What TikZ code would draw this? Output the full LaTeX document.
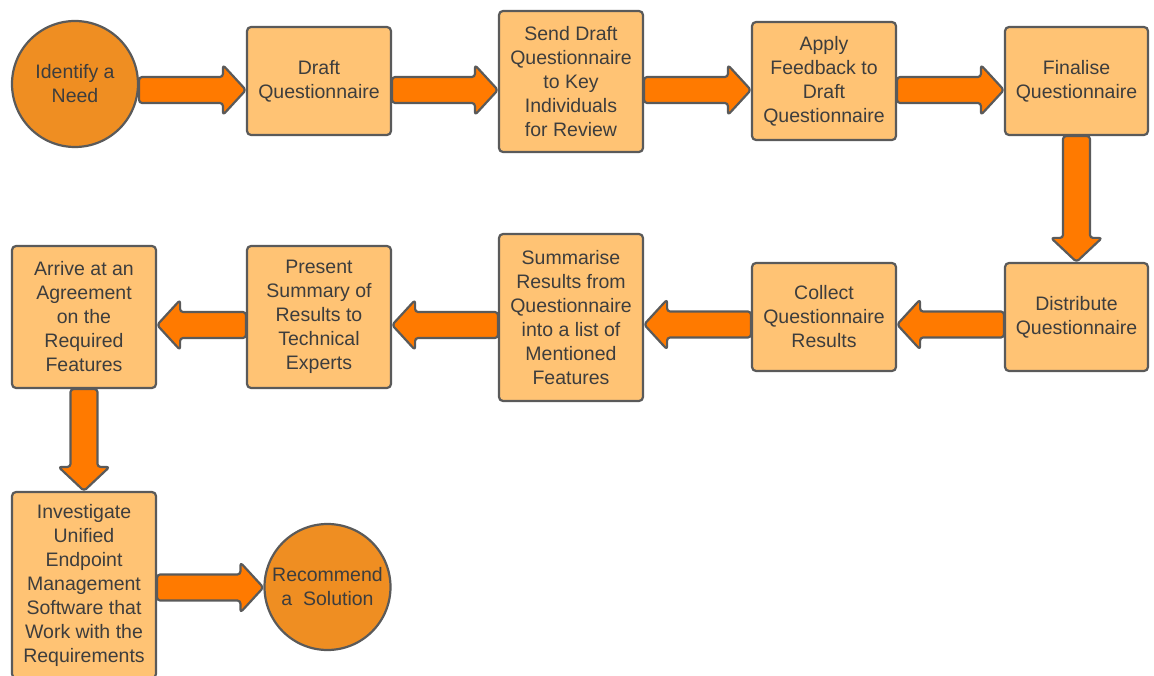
\documentclass[tikz,border=0pt]{standalone}
\usepackage{fontspec}
\setmainfont{Liberation Sans}
\usetikzlibrary{calc}

\definecolor{boxfill}{HTML}{FFC374}
\definecolor{circfill}{HTML}{EF8E22}
\definecolor{arrowfill}{HTML}{FF7A00}
\definecolor{edgegray}{HTML}{5A5A5A}
\definecolor{textgray}{HTML}{3D3D3D}

\tikzset{
  base/.style={draw=edgegray, line width=2.2pt, text=textgray, align=center,
    inner sep=0pt, font=\fontsize{19.5}{24}\selectfont},
  stepbox/.style={base, rectangle, rounded corners=4pt, fill=boxfill},
  endpoint/.style={base, circle, fill=circfill, minimum size=126pt},
  flowarrow/.style={draw=edgegray, fill=arrowfill, line width=2.2pt,
    rounded corners=3pt, line join=round},
}

% horizontal block arrow: start point, end point (only its x is used)
\newcommand\harrow[2]{%
  \filldraw[flowarrow] let \p1=#1, \p2=#2, \n1={sign(\x2-\x1)} in
    (\x1,\y1+13pt) -- (\x2-\n1*23pt,\y1+13pt) -- (\x2-\n1*23pt,\y1+25pt)
    -- (\x2,\y1) -- (\x2-\n1*23pt,\y1-25pt) -- (\x2-\n1*23pt,\y1-13pt)
    -- (\x1,\y1-13pt) -- cycle;}
% vertical block arrow: start point, end point (only its y is used)
\newcommand\varrow[2]{%
  \filldraw[flowarrow] let \p1=#1, \p2=#2, \n1={sign(\y2-\y1)} in
    (\x1+13.5pt,\y1) -- (\x1+13.5pt,\y2-\n1*24pt) -- (\x1+25.5pt,\y2-\n1*24pt)
    -- (\x1,\y2) -- (\x1-25.5pt,\y2-\n1*24pt) -- (\x1-13.5pt,\y2-\n1*24pt)
    -- (\x1-13.5pt,\y1) -- cycle;}

\begin{document}
\begin{tikzpicture}[x=1pt, y=-1pt]
\useasboundingbox (0,0) rectangle (1154,676);

% first row
\node[endpoint] (need) at (75,84) {Identify a\\Need};
\node[stepbox, minimum width=144pt, minimum height=108pt] (draft) at (319,81)
  {Draft\\Questionnaire};
\node[stepbox, minimum width=144pt, minimum height=141pt] (send) at (571,81.5)
  {Send Draft\\Questionnaire\\to Key\\Individuals\\for Review};
\node[stepbox, minimum width=144pt, minimum height=118pt] (apply) at (824,81)
  {Apply\\Feedback to\\Draft\\Questionnaire};
\node[stepbox, minimum width=143pt, minimum height=108pt] (final) at (1076.5,81)
  {Finalise\\Questionnaire};

% second row
\node[stepbox, minimum width=143pt, minimum height=108pt] (distr) at (1076.5,317)
  {Distribute\\Questionnaire};
\node[stepbox, minimum width=144pt, minimum height=108pt] (collect) at (824,317)
  {Collect\\Questionnaire\\Results};
\node[stepbox, minimum width=144pt, minimum height=167pt] (summ) at (571,317.5)
  {Summarise\\Results from\\Questionnaire\\into a list of\\Mentioned\\Features};
\node[stepbox, minimum width=144pt, minimum height=142pt] (present) at (319,317)
  {Present\\Summary of\\Results to\\Technical\\Experts};
\node[stepbox, minimum width=144pt, minimum height=142pt] (arrive) at (84,317)
  {Arrive at an\\Agreement\\on the\\Required\\Features};

% third row
\node[stepbox, minimum width=144pt, minimum height=186pt] (invest) at (84,585)
  {Investigate\\Unified\\Endpoint\\Management\\Software that\\Work with the\\Requirements};
\node[endpoint] (recommend) at (327.5,587) {Recommend\\a~ Solution};

% connectors
\harrow{($(need.east)+(0,6)$)}{(draft.west)}
\harrow{($(draft.east)+(0,9)$)}{(send.west)}
\harrow{($(send.east)+(0,8.5)$)}{(apply.west)}
\harrow{($(apply.east)+(0,9)$)}{(final.west)}
\varrow{(final.south)}{(distr.north)}
\harrow{($(distr.west)+(0,7.5)$)}{(collect.east)}
\harrow{($(collect.west)+(0,7.5)$)}{(summ.east)}
\harrow{($(summ.west)+(0,7.5)$)}{(present.east)}
\harrow{($(present.west)+(0,8)$)}{(arrive.east)}
\varrow{(arrive.south)}{(invest.north)}
\harrow{($(invest.east)+(0,2.5)$)}{(recommend.west)}
\end{tikzpicture}
\end{document}
